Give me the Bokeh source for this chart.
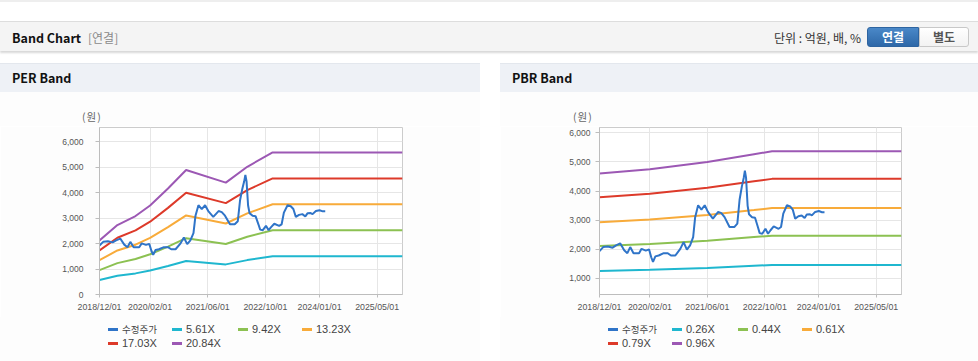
import pandas as pd
from bokeh.plotting import figure
from bokeh.models import (Range1d, FixedTicker, DatetimeTickFormatter, NumeralTickFormatter,
                          Spacer, Div)
from bokeh.layouts import column, row
from bokeh.embed import file_html
from bokeh.resources import INLINE

# ---------------- data ----------------
price_dates = ["2018-12-01","2019-01-01","2019-02-10","2019-03-22","2019-04-20","2019-05-25","2019-06-28",
               "2019-07-25","2019-08-18","2019-09-15","2019-11-01","2019-11-22","2019-12-28","2020-01-25",
               "2020-02-12","2020-02-27","2020-03-18","2020-04-15","2020-05-28","2020-07-01","2020-07-28",
               "2020-09-03","2020-10-15","2020-11-12","2020-12-10","2021-01-06","2021-02-01","2021-02-18",
               "2021-03-15","2021-04-12","2021-05-10","2021-06-06","2021-07-18","2021-09-01","2021-09-28",
               "2021-10-25","2021-12-06","2022-01-15","2022-02-10","2022-03-01","2022-03-20","2022-04-05",
               "2022-04-15","2022-04-25","2022-05-08","2022-05-20","2022-06-15","2022-07-10","2022-08-03",
               "2022-08-18","2022-09-09","2022-10-06","2022-10-28","2022-11-18","2022-12-15","2023-01-25",
               "2023-02-15","2023-03-06","2023-04-06","2023-05-03","2023-05-25","2023-06-15","2023-07-12",
               "2023-08-09","2023-09-03","2023-09-21","2023-10-18","2023-11-03","2023-12-01","2024-01-01",
               "2024-01-28","2024-02-18"]
price_values = [1930,2070,2090,2050,2130,2200,1960,1860,2070,1860,1860,2010,1950,1990,1720,1560,1750,1780,
                1860,1860,1780,1780,2010,2240,1980,2130,2410,3100,3510,3360,3510,3280,3050,3280,3240,3100,
                2760,2760,2880,3700,4150,4450,4700,4450,3500,3200,3100,3080,2760,2550,2530,2700,2530,2650,
                2780,2700,2760,3220,3510,3470,3360,3050,3130,3160,3070,3190,3200,3160,3280,3310,3270,3270]

per_band_dates = ["2018-12-01","2019-05-01","2019-10-01","2020-02-01","2020-07-01","2020-12-01",
                  "2021-11-01","2022-05-01","2022-12-01","2025-12-01"]
per_labels = ["5.61X", "9.42X", "13.23X", "17.03X", "20.84X"]
per_561 = [572, 735, 830, 942, 1122, 1318, 1184, 1352, 1503, 1503]
per_942 = [961, 1234, 1394, 1583, 1884, 2214, 1988, 2270, 2525, 2525]
per_1323 = [1349, 1733, 1958, 2223, 2646, 3109, 2792, 3188, 3546, 3546]
per_1703 = [1737, 2231, 2520, 2861, 3406, 4002, 3593, 4104, 4564, 4564]
per_2084 = [2126, 2730, 3084, 3501, 4168, 4897, 4397, 5022, 5585, 5585]

pbr_band_dates = ["2018-12-01","2020-02-01","2021-06-01","2022-07-01","2022-12-01","2025-12-01"]
pbr_labels = ["0.26X", "0.44X", "0.61X", "0.79X", "0.96X"]
pbr_026 = [1246, 1286, 1354, 1426, 1454, 1454]
pbr_044 = [2108, 2176, 2292, 2413, 2461, 2461]
pbr_061 = [2923, 3017, 3177, 3346, 3412, 3412]
pbr_079 = [3786, 3907, 4114, 4333, 4418, 4418]
pbr_096 = [4600, 4748, 5000, 5266, 5369, 5369]

price_label = "수정주가"
x_tick_dates = ["2018-12-01", "2020-02-01", "2021-06-01", "2022-10-01", "2024-01-01", "2025-05-01"]
x_start, x_end = "2018-12-01", "2025-12-01"
per_yticks = [0, 1000, 2000, 3000, 4000, 5000, 6000]
pbr_yticks = [1000, 2000, 3000, 4000, 5000, 6000]

# ---------------- style ----------------
PRICE_COLOR = "#2f74c8"
BAND_COLORS = ["#1fb7cf", "#8cc152", "#f8ab3a", "#dd3a2a", "#9c58b4"]
KFONT = "Noto Sans CJK KR"
AFONT = "Liberation Sans"
PANEL_BG = "#fdfdfd"


def ms(d):
    return pd.Timestamp(d).value // 10**6


top_html = f"""
<div style="position:relative;width:978px;height:63px;background:#ffffff;font-family:'{KFONT}';overflow:hidden;">
 <div style="position:absolute;left:0;top:0;width:978px;height:2px;background:#eeeeee;"></div>
 <div style="position:absolute;left:0;top:21px;width:978px;height:30px;background:#f4f4f4;
      border-top:1px solid #dddddd;box-shadow:0 2px 2px #d8d8d8;"></div>
 <span style="position:absolute;left:12px;top:29px;line-height:18px;font-size:12.5px;font-weight:bold;color:#111;">Band Chart</span>
 <span style="position:absolute;left:88px;top:29px;line-height:18px;font-size:12px;color:#8a8a8a;">[연결]</span>
 <span style="position:absolute;right:117px;top:29px;line-height:18px;font-size:12px;color:#333;">단위 : 억원, 배, %</span>
 <div style="position:absolute;left:867px;top:27px;width:52px;height:20px;box-sizing:border-box;
      background:linear-gradient(#4a88c8,#2e68a8);border:1px solid #2e64a0;border-radius:3px 0 0 3px;
      color:#fff;font-size:12px;font-weight:bold;line-height:18px;text-align:center;">연결</div>
 <div style="position:absolute;left:919px;top:27px;width:50px;height:20px;box-sizing:border-box;
      background:linear-gradient(#ffffff,#f2f2f2);border:1px solid #c8c8c8;border-radius:0 3px 3px 0;
      color:#555;font-size:12px;font-weight:bold;line-height:18px;text-align:center;">별도</div>
</div>
"""


def panel_header(w, title):
    html = f"""
<div style="position:relative;width:{w}px;height:29px;background:#eef1f6;border-top:1px solid #e3e7ed;
     box-sizing:border-box;font-family:'{KFONT}';">
 <span style="position:absolute;left:12px;top:5px;line-height:18px;font-size:12.5px;font-weight:bold;color:#111;">{title}</span>
</div>"""
    return Div(text=html, width=w, height=29, margin=0)


def unit_div(w, left):
    html = f"""
<div style="position:relative;width:{w}px;height:34px;background:{PANEL_BG};font-family:'{KFONT}';">
 <span style="position:absolute;left:{left}px;top:17px;line-height:16px;font-size:10.5px;color:#666;letter-spacing:1px;">(원)</span>
</div>"""
    return Div(text=html, width=w, height=34, margin=0)


def legend_div(w, labels):
    names = [price_label] + labels
    colors = [PRICE_COLOR] + BAND_COLORS
    col_x = [108, 172, 238, 302]
    row_y = [12, 26]
    parts = []
    for i, (nm, c) in enumerate(zip(names, colors)):
        x = col_x[i % 4]
        y = row_y[i // 4]
        fs = "9.5px" if i == 0 else "11px"
        fam = f"'{KFONT}'" if i == 0 else f"'{AFONT}','{KFONT}'"
        parts.append(f'<div style="position:absolute;left:{x}px;top:{y-1}px;width:10px;height:3px;background:{c};"></div>')
        parts.append(f'<span style="position:absolute;left:{x+14}px;top:{y-8}px;line-height:16px;'
                     f'font-size:{fs};font-family:{fam};color:#444;white-space:nowrap;">{nm}</span>')
    html = (f'<div style="position:relative;width:{w}px;height:44px;background:{PANEL_BG};">'
            + "".join(parts) + "</div>")
    return Div(text=html, width=w, height=44, margin=0)


def chart(w, right_border, yr, yticks, band_dates, bands, ystandoff):
    p = figure(width=w, height=191, x_axis_type="datetime",
               x_range=Range1d(pd.Timestamp(x_start), pd.Timestamp(x_end)),
               y_range=Range1d(*yr), toolbar_location=None, output_backend="svg",
               min_border_left=99, min_border_right=right_border,
               min_border_top=1, min_border_bottom=23, margin=0)
    p.background_fill_color = "white"
    p.border_fill_color = PANEL_BG
    p.outline_line_color = "#cccccc"

    bd = pd.to_datetime(band_dates)
    for vals, col in zip(bands, BAND_COLORS):
        p.line(bd, vals, line_color=col, line_width=2)
    p.line(pd.to_datetime(price_dates), price_values, line_color=PRICE_COLOR, line_width=2)

    p.xaxis.ticker = FixedTicker(ticks=[ms(d) for d in x_tick_dates])
    fmt = "%Y/%m/%d"
    p.xaxis.formatter = DatetimeTickFormatter(microseconds=fmt, milliseconds=fmt, seconds=fmt,
                                              minsec=fmt, minutes=fmt, hourmin=fmt, hours=fmt,
                                              days=fmt, months=fmt, years=fmt)
    p.yaxis.ticker = FixedTicker(ticks=yticks)
    p.yaxis.formatter = NumeralTickFormatter(format="0,0")
    p.grid.grid_line_color = "#e6e6e6"
    p.axis.axis_line_color = "#bdbdbd"
    p.axis.major_tick_line_color = "#bdbdbd"
    p.axis.minor_tick_line_color = None
    p.axis.major_tick_in = 0
    p.xaxis.major_tick_out = 3
    p.yaxis.major_tick_out = 4
    p.axis.major_label_text_font = AFONT
    p.axis.major_label_text_color = "#555555"
    p.xaxis.major_label_text_font_size = "8.8px"
    p.yaxis.major_label_text_font_size = "8.5px"
    p.xaxis.major_label_standoff = 4
    p.yaxis.major_label_standoff = ystandoff
    return p


per = chart(480, 78, (0, 6566), per_yticks, per_band_dates,
            [per_561, per_942, per_1323, per_1703, per_2084], 12)
pbr = chart(478, 77, (438, 6186), pbr_yticks, pbr_band_dates,
            [pbr_026, pbr_044, pbr_061, pbr_079, pbr_096], 5)

top = Div(text=top_html, width=978, height=63, margin=0)
left = column(panel_header(480, "PER Band"), unit_div(480, 82), per, legend_div(480, per_labels),
              spacing=0, margin=0)
right = column(panel_header(478, "PBR Band"), unit_div(478, 73), pbr, legend_div(478, pbr_labels),
               spacing=0, margin=0)
body = row(left, Spacer(width=20, height=298, margin=0), right, spacing=0, margin=0)
page = column(top, body, spacing=0, margin=0)

open("out.html", "w").write(file_html(page, INLINE))
